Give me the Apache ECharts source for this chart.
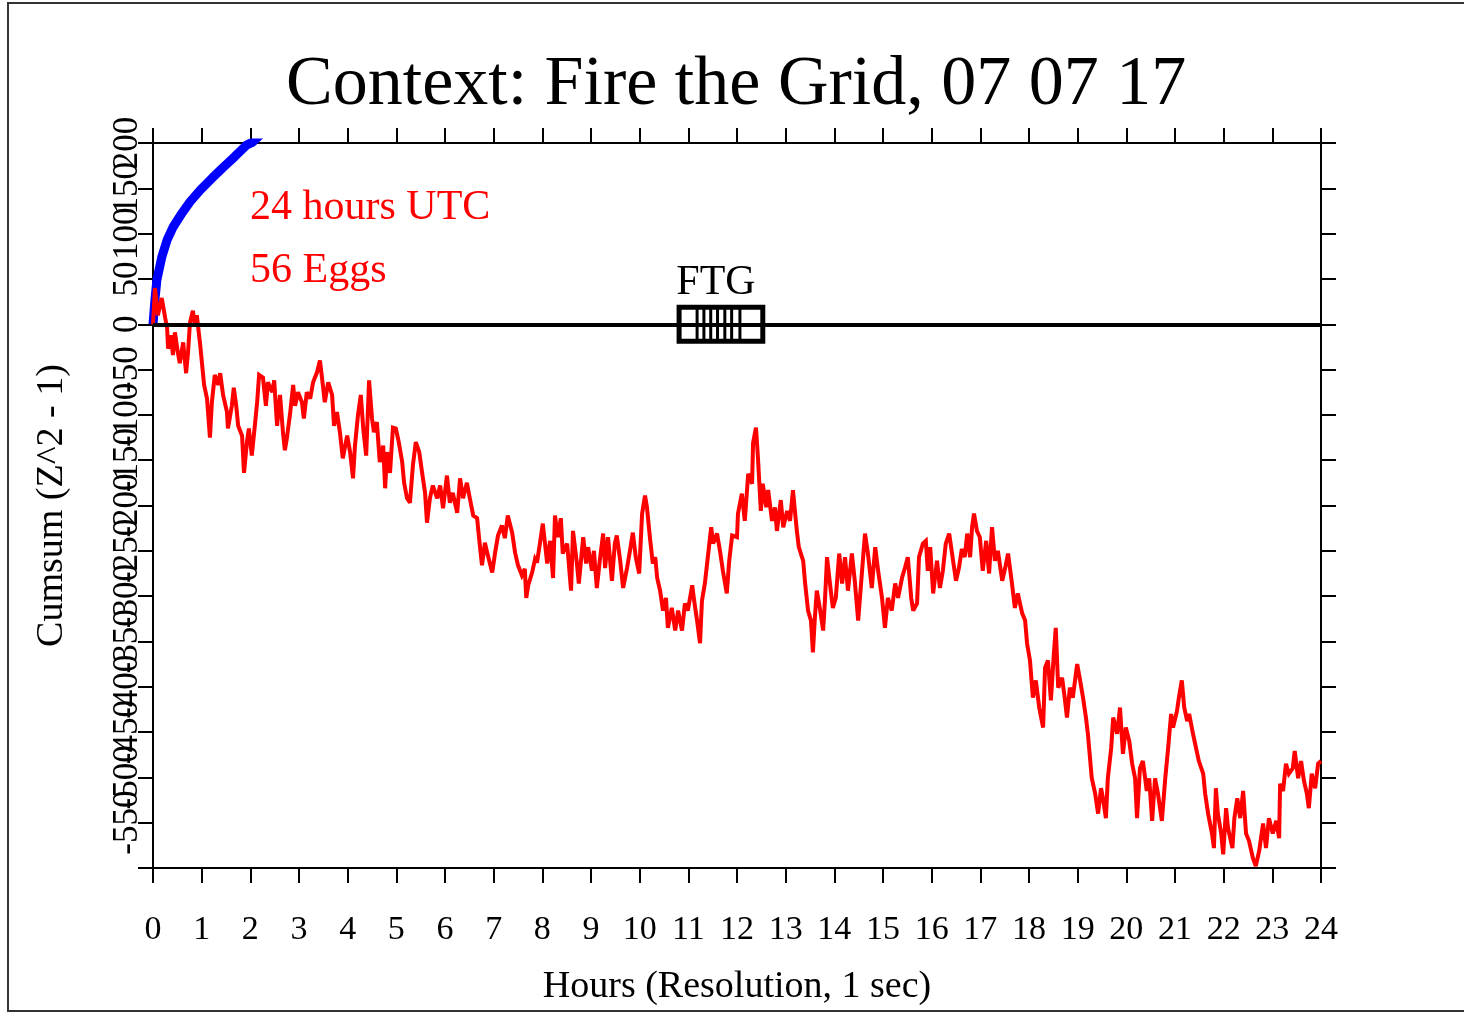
<!DOCTYPE html>
<html>
<head>
<meta charset="utf-8">
<title>Context: Fire the Grid, 07 07 17</title>
<script src="https://cdn.jsdelivr.net/npm/echarts@6/dist/echarts.min.js"></script>
<style>
  html, body { margin: 0; padding: 0; background: #ffffff; }
  #chart { width: 1464px; height: 1013px; }
</style>
</head>
<body>
<div id="chart"></div>
<script>
// Axis extents (hours across the day, cumulative deviation in Z^2 - 1 units)
const hourMin = 0, hourMax = 24, hourStep = 1;
const cumsumMin = -600, cumsumMax = 200, cumsumStep = 50;

// Event window on the hour axis, with the minute markers drawn inside it
const eventName = 'FTG';
const eventStart = 10.81;
const eventEnd = 12.53;
const eventMarks = [11.18, 11.32, 11.46, 11.60, 11.75, 11.89, 12.06];

// 0.05 probability envelope, [hour, cumsum]
const envelope = [
  [0, 0], [0.01, 0], [0.04, 27], [0.08, 49], [0.18, 74], [0.29, 93], [0.41, 107],
  [0.60, 123], [0.76, 135], [0.97, 148], [1.21, 161], [1.44, 173], [1.68, 185],
  [1.93, 198], [2.05, 201], [2.30, 214]
];

// Cumulative deviation of the network, [hour, cumsum], 00:00 - 08:00 UTC
const cumsumEarly = [
  [0,0],[0.04,40],[0.10,10],[0.18,29],[0.25,7],[0.29,-4],[0.31,-27],[0.37,-12],[0.41,-34],[0.45,-9],
  [0.51,-31],[0.55,-43],[0.62,-20],[0.68,-54],[0.72,-31],[0.76,2],[0.82,15],[0.86,-1],[0.90,10],[0.97,-23],
  [1.01,-45],[1.05,-67],[1.11,-82],[1.17,-125],[1.21,-86],[1.27,-56],[1.34,-67],[1.38,-54],[1.44,-78],[1.52,-97],
  [1.54,-115],[1.62,-90],[1.66,-70],[1.71,-90],[1.75,-112],[1.83,-123],[1.87,-164],[1.93,-130],[1.97,-115],[2.03,-145],
  [2.10,-108],[2.14,-86],[2.18,-56],[2.26,-59],[2.32,-90],[2.36,-64],[2.45,-75],[2.49,-62],[2.55,-112],[2.61,-78],
  [2.67,-119],[2.71,-139],[2.75,-126],[2.82,-97],[2.88,-67],[2.92,-90],[2.98,-75],[3.06,-86],[3.10,-104],[3.16,-75],
  [3.23,-82],[3.29,-64],[3.37,-53],[3.43,-40],[3.49,-67],[3.53,-86],[3.60,-64],[3.68,-78],[3.72,-112],[3.78,-97],
  [3.84,-119],[3.90,-148],[3.99,-123],[4.05,-141],[4.11,-170],[4.15,-134],[4.21,-101],[4.27,-78],[4.32,-115],[4.38,-145],
  [4.44,-62],[4.50,-104],[4.54,-119],[4.60,-108],[4.66,-152],[4.73,-134],[4.77,-181],[4.81,-141],[4.87,-164],[4.93,-114],
  [4.99,-115],[5.05,-130],[5.12,-152],[5.16,-175],[5.22,-192],[5.28,-197],[5.34,-156],[5.40,-130],[5.47,-141],[5.53,-164],
  [5.59,-186],[5.63,-219],[5.69,-192],[5.75,-178],[5.84,-192],[5.90,-178],[5.96,-203],[6.04,-167],[6.10,-197],[6.16,-186],
  [6.25,-208],[6.31,-170],[6.37,-192],[6.45,-175],[6.51,-192],[6.58,-211],[6.66,-214],[6.70,-236],[6.76,-266],[6.82,-241],
  [6.88,-255],[6.97,-274],[7.03,-252],[7.09,-233],[7.17,-222],[7.23,-236],[7.29,-211],[7.38,-230],[7.44,-252],[7.50,-266],
  [7.58,-277],[7.64,-270],[7.67,-302],[7.71,-288],[7.79,-274],[7.85,-259],[7.89,-263]
];

// 08:00 - 16:00 UTC
const cumsumMiddle = [
  [7.95,-242],[8.01,-220],[8.10,-264],[8.16,-239],[8.22,-280],[8.26,-211],[8.32,-235],[8.38,-214],[8.42,-253],[8.51,-242],
  [8.59,-294],[8.63,-228],[8.71,-264],[8.75,-286],[8.84,-235],[8.90,-264],[8.94,-246],[9.02,-272],[9.06,-250],[9.12,-291],
  [9.18,-261],[9.25,-231],[9.29,-269],[9.35,-235],[9.43,-283],[9.49,-242],[9.53,-233],[9.60,-261],[9.66,-291],[9.74,-269],
  [9.80,-250],[9.86,-230],[9.92,-257],[9.99,-275],[10.05,-209],[10.11,-189],[10.15,-202],[10.21,-235],[10.27,-264],[10.32,-257],
  [10.36,-280],[10.42,-294],[10.48,-316],[10.54,-302],[10.58,-335],[10.66,-313],[10.73,-338],[10.79,-316],[10.87,-338],[10.93,-308],
  [10.99,-316],[11.08,-288],[11.12,-305],[11.18,-327],[11.24,-352],[11.28,-305],[11.34,-286],[11.40,-257],[11.47,-224],[11.51,-242],
  [11.59,-231],[11.65,-250],[11.71,-272],[11.79,-297],[11.84,-261],[11.90,-233],[12.00,-235],[12.02,-209],[12.10,-187],[12.16,-217],
  [12.23,-165],[12.31,-176],[12.33,-131],[12.39,-114],[12.43,-147],[12.49,-206],[12.53,-176],[12.60,-202],[12.64,-183],[12.72,-217],
  [12.78,-202],[12.82,-228],[12.90,-194],[12.95,-224],[13.03,-206],[13.09,-217],[13.15,-183],[13.19,-206],[13.23,-228],[13.27,-246],
  [13.36,-261],[13.40,-286],[13.46,-316],[13.52,-327],[13.56,-362],[13.60,-324],[13.64,-294],[13.71,-316],[13.77,-338],[13.81,-302],
  [13.85,-257],[13.91,-286],[13.97,-313],[14.03,-302],[14.10,-253],[14.16,-286],[14.22,-257],[14.28,-294],[14.36,-253],[14.42,-283],
  [14.49,-327],[14.57,-272],[14.63,-231],[14.69,-253],[14.77,-291],[14.84,-246],[14.90,-272],[14.98,-302],[15.04,-335],[15.10,-302],
  [15.18,-316],[15.25,-286],[15.31,-302],[15.39,-280],[15.45,-269],[15.51,-257],[15.58,-302],[15.62,-316],[15.70,-308],[15.74,-257],
  [15.82,-242],[15.88,-239],[15.92,-272]
];

// 16:00 - 24:00 UTC
const cumsumLate = [
  [15.97,-246],[16.03,-297],[16.11,-261],[16.17,-291],[16.23,-272],[16.29,-242],[16.36,-231],[16.44,-261],[16.50,-283],[16.56,-269],
  [16.62,-248],[16.68,-257],[16.73,-231],[16.79,-257],[16.83,-224],[16.87,-209],[16.93,-228],[16.99,-235],[17.05,-272],[17.12,-239],
  [17.18,-275],[17.24,-224],[17.30,-261],[17.36,-250],[17.45,-283],[17.51,-269],[17.57,-253],[17.65,-286],[17.71,-313],[17.77,-297],
  [17.86,-319],[17.92,-327],[17.96,-352],[18.02,-371],[18.08,-412],[18.14,-393],[18.21,-423],[18.29,-445],[18.33,-379],[18.39,-371],
  [18.45,-415],[18.51,-364],[18.55,-335],[18.60,-401],[18.68,-390],[18.74,-415],[18.78,-434],[18.84,-401],[18.90,-412],[18.99,-375],
  [19.05,-393],[19.11,-412],[19.17,-434],[19.21,-452],[19.29,-501],[19.36,-518],[19.42,-540],[19.48,-512],[19.52,-523],[19.58,-545],
  [19.62,-501],[19.69,-467],[19.73,-434],[19.81,-452],[19.87,-423],[19.93,-474],[19.99,-445],[20.06,-460],[20.12,-485],[20.18,-501],
  [20.22,-545],[20.28,-490],[20.34,-482],[20.42,-515],[20.47,-501],[20.53,-548],[20.59,-501],[20.65,-518],[20.73,-548],[20.80,-501],
  [20.86,-467],[20.92,-430],[20.96,-445],[21.04,-427],[21.08,-412],[21.14,-393],[21.19,-423],[21.25,-438],[21.29,-430],[21.37,-452],
  [21.43,-467],[21.49,-482],[21.58,-496],[21.62,-518],[21.68,-540],[21.76,-562],[21.80,-578],[21.84,-512],[21.88,-540],[21.95,-562],
  [21.99,-585],[22.05,-534],[22.09,-556],[22.18,-578],[22.22,-545],[22.28,-523],[22.34,-545],[22.40,-515],[22.46,-562],[22.52,-570],
  [22.60,-589],[22.66,-598],[22.73,-581],[22.81,-551],[22.87,-578],[22.93,-545],[23.01,-562],[23.08,-548],[23.14,-567],[23.16,-507],
  [23.22,-515],[23.28,-485],[23.34,-496],[23.42,-490],[23.46,-471],[23.53,-501],[23.59,-482],[23.65,-504],[23.71,-518],[23.75,-534],
  [23.81,-496],[23.88,-512],[23.94,-485],[24.00,-482]
];

const titleText = 'Context: Fire the Grid, 07 07 17';
const notes = ['24 hours UTC', '56 Eggs'];
const xName = 'Hours (Resolution, 1 sec)';
const yName = 'Cumsum (Z^2 - 1)';

const serif = '"Liberation Serif", "Times New Roman", serif';
const cumsum = cumsumEarly.concat(cumsumMiddle, cumsumLate);

const chart = echarts.init(document.getElementById('chart'), null, { renderer: 'canvas' });

function frameAxis(base) {
  return Object.assign({
    type: 'value',
    axisLine: { show: true, onZero: false, lineStyle: { color: '#000', width: 2 } },
    axisTick: { show: true, inside: false, length: 15, lineStyle: { color: '#000', width: 2 } },
    splitLine: { show: false },
    axisLabel: { show: false }
  }, base);
}

const yLabelStyle = {
  show: true, rotate: 90, margin: 8, fontFamily: serif, fontSize: 35, color: '#000', hideOverlap: false
};

const option = {
  backgroundColor: '#ffffff',
  animation: false,
  title: {
    text: titleText,
    left: 281,
    top: 46,
    textStyle: { fontFamily: serif, fontSize: 70, fontWeight: 'normal', color: '#000' }
  },
  grid: { left: 153, right: 143, top: 143, bottom: 145, containLabel: false },
  xAxis: [
    frameAxis({
      position: 'bottom', min: hourMin, max: hourMax, interval: hourStep,
      name: xName, nameLocation: 'middle', nameGap: 100,
      nameTextStyle: { fontFamily: serif, fontSize: 38, color: '#000' },
      axisLabel: { show: true, margin: 45, fontFamily: serif, fontSize: 34, color: '#000' }
    }),
    frameAxis({ position: 'top', min: hourMin, max: hourMax, interval: hourStep })
  ],
  yAxis: [
    // left axis: every label from -550 up to 150
    frameAxis({
      position: 'left', min: cumsumMin, max: cumsumMax, interval: cumsumStep,
      name: yName, nameLocation: 'middle', nameGap: 82, nameRotate: 90,
      nameTextStyle: { fontFamily: serif, fontSize: 38, color: '#000' },
      axisLabel: Object.assign({}, yLabelStyle, {
        showMaxLabel: false, showMinLabel: true,
        formatter: function (v) { return v === cumsumMin ? '' : String(v); }
      })
    }),
    frameAxis({ position: 'right', min: cumsumMin, max: cumsumMax, interval: cumsumStep }),
    // same left scale again, carrying only the top label (it overlaps its neighbour)
    frameAxis({
      position: 'left', min: cumsumMin, max: cumsumMax, interval: cumsumStep,
      axisLine: { show: false },
      axisLabel: Object.assign({}, yLabelStyle, {
        showMaxLabel: true,
        formatter: function (v) { return v === cumsumMax ? String(v) : ''; }
      })
    })
  ],
  graphic: [
    {
      type: 'rect', silent: true, z: 100,
      shape: { x: 8, y: 3, width: 1480, height: 1008 },
      style: { fill: 'none', stroke: '#333', lineWidth: 2 }
    },
    {
      type: 'text', left: 250, top: 187, z: 100,
      style: { text: notes[0], font: '42px ' + serif, fill: '#ff0000' }
    },
    {
      type: 'text', left: 250, top: 250, z: 100,
      style: { text: notes[1], font: '42px ' + serif, fill: '#ff0000' }
    }
  ],
  series: [
    {
      name: 'envelope', type: 'line', data: envelope, showSymbol: false, clip: true,
      lineStyle: { color: '#0000ff', width: 9 }, z: 2
    },
    {
      name: 'cumsum', type: 'line', data: cumsum, showSymbol: false, clip: true,
      lineStyle: { color: '#ff0000', width: 4, join: 'miter', miterLimit: 3 }, z: 3,
      markLine: {
        silent: true, symbol: 'none', label: { show: false },
        lineStyle: { color: '#000', width: 4, type: 'solid' },
        data: [{ yAxis: 0 }]
      }
    },
    {
      name: 'event', type: 'custom', z: 5,
      encode: { x: [0, 1] },
      data: [[eventStart, eventEnd]],
      renderItem: function (params, api) {
        const a = api.coord([api.value(0), 0]);
        const b = api.coord([api.value(1), 0]);
        const half = 17;
        const children = [
          {
            type: 'rect',
            shape: { x: a[0], y: a[1] - half, width: b[0] - a[0], height: half * 2 },
            style: { fill: 'none', stroke: '#000', lineWidth: 5 }
          },
          {
            type: 'text',
            style: {
              text: eventName, x: (a[0] + b[0]) / 2 - 5, y: a[1] - half - 3,
              align: 'center', verticalAlign: 'bottom', font: '42px ' + serif, fill: '#000'
            }
          }
        ];
        eventMarks.forEach(function (t) {
          const p = api.coord([t, 0]);
          children.push({
            type: 'line',
            shape: { x1: p[0], y1: a[1] - half, x2: p[0], y2: a[1] + half },
            style: { stroke: '#000', lineWidth: 3 }
          });
        });
        return { type: 'group', children: children };
      }
    }
  ]
};

chart.setOption(option);
</script>
</body>
</html>
